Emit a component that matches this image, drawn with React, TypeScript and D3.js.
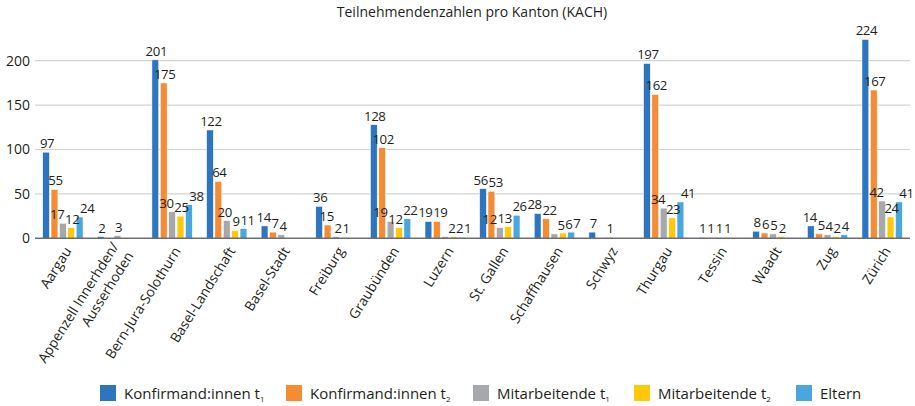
import React from "react";
import * as d3 from "d3";

const title = "Teilnehmendenzahlen pro Kanton (KACH)";
const cantons: string[][] = [
  ["Aargau"],
  ["Appenzell Innerhden/", "Ausserhoden"],
  ["Bern-Jura-Solothurn"],
  ["Basel-Landschaft"],
  ["Basel-Stadt"],
  ["Freiburg"],
  ["Graubünden"],
  ["Luzern"],
  ["St. Gallen"],
  ["Schaffhausen"],
  ["Schwyz"],
  ["Thurgau"],
  ["Tessin"],
  ["Waadt"],
  ["Zug"],
  ["Zürich"],
];
const konfT1: (number | null)[] = [97, 2, 201, 122, 14, 36, 128, 19, 56, 28, 7, 197, 1, 8, 14, 224];
const konfT2: (number | null)[] = [55, null, 175, 64, 7, 15, 102, 19, 53, 22, null, 162, 1, 6, 5, 167];
const mitT1: (number | null)[] = [17, 3, 30, 20, 4, 2, 19, 2, 12, 5, 1, 34, 1, 5, 4, 42];
const mitT2: (number | null)[] = [12, null, 25, 9, null, 1, 12, 2, 13, 6, null, 23, 1, 2, 2, 24];
const eltern: (number | null)[] = [24, null, 38, 11, null, null, 22, 1, 26, 7, null, 41, null, null, 4, 41];
const yTicks = [0, 50, 100, 150, 200];

const seriesNames = [
  { base: "Konfirmand:innen t", sub: "1" },
  { base: "Konfirmand:innen t", sub: "2" },
  { base: "Mitarbeitende t", sub: "1" },
  { base: "Mitarbeitende t", sub: "2" },
  { base: "Eltern", sub: "" },
];
const seriesValues = [konfT1, konfT2, mitT1, mitT2, eltern];
const colors = ["#2E75BF", "#F58B32", "#A7A8AB", "#FFC80B", "#49A7DE"];
const legendX = [100, 286, 473, 634, 796];

const W = 915;
const H = 406;
const FONT = "'Open Sans', 'Noto Sans', sans-serif";
const LABEL_SIZE = 13.2;
const DIGIT_W = 7.1;

type Lab = { key: string; v: number; x: number; y: number; w: number };

export default function App() {
  const left = 35;
  const right = 910;
  const y0 = 238.3;
  const y200 = 60.7;
  const x = d3
    .scaleBand<number>()
    .domain(cantons.map((_, i) => i))
    .range([left, right])
    .paddingInner(0.26)
    .paddingOuter(0.14);
  const xs = d3
    .scaleBand<number>()
    .domain(seriesValues.map((_, i) => i))
    .range([0, x.bandwidth()])
    .paddingInner(0.18);
  const y = d3.scaleLinear().domain([0, 200]).range([y0, y200]);
  const angle = -58;

  // value labels with simple horizontal collision spreading
  const labels: Lab[] = [];
  cantons.forEach((_, i) => {
    seriesValues.forEach((vals, s) => {
      const v = vals[i];
      if (v == null) return;
      labels.push({
        key: `l${s}-${i}`,
        v,
        x: (x(i) as number) + (xs(s) as number) + xs.bandwidth() / 2 + 1,
        y: y(v) - 4,
        w: String(v).length * DIGIT_W,
      });
    });
  });
  for (let it = 0; it < 60; it++) {
    let moved = false;
    for (let a = 0; a < labels.length; a++) {
      for (let b = a + 1; b < labels.length; b++) {
        const A = labels[a];
        const B = labels[b];
        if (Math.abs(A.y - B.y) >= 16) continue;
        if (Math.abs(A.x - B.x) > 60) continue;
        const ov = A.x + A.w / 2 + 0.8 - (B.x - B.w / 2);
        if (ov > 0.05) {
          A.x -= ov / 2;
          B.x += ov / 2;
          moved = true;
        }
      }
    }
    if (!moved) break;
  }

  return (
    <svg
      width={W}
      height={H}
      style={{ position: "absolute", left: 0, top: 0 }}
      fontFamily={FONT}
    >
      <rect width={W} height={H} fill="#fff" />
      <text x={472} y={17} textAnchor="middle" fontSize={14} fill="#231F20">
        {title}
      </text>
      {yTicks.map((t) => (
        <g key={t}>
          {t > 0 && (
            <line x1={left} x2={right} y1={y(t)} y2={y(t)} stroke="#D1D3D4" strokeWidth={1.2} />
          )}
          <text x={30} y={y(t)} dy="0.35em" textAnchor="end" fontSize={14} fill="#231F20">
            {t}
          </text>
        </g>
      ))}
      {seriesValues.map((vals, s) =>
        vals.map((v, i) =>
          v == null ? null : (
            <rect
              key={`b${s}-${i}`}
              x={(x(i) as number) + (xs(s) as number)}
              y={y(v)}
              width={xs.bandwidth()}
              height={y0 - y(v)}
              fill={colors[s]}
              stroke="#fff"
              strokeWidth={0.6}
            />
          )
        )
      )}
      <line x1={left} x2={right} y1={y0} y2={y0} stroke="#6D6E71" strokeWidth={1.5} />
      {labels.map((l) => (
        <text
          key={l.key}
          x={l.x}
          y={l.y}
          textAnchor="middle"
          fontSize={LABEL_SIZE}
          letterSpacing={-0.4}
          fill="#231F20"
        >
          {l.v}
        </text>
      ))}
      {cantons.map((lines, i) => {
        const cx = (x(i) as number) + x.bandwidth() / 2;
        const n = lines.length;
        return (
          <text
            key={`c${i}`}
            transform={`translate(${cx + 5},${y0 + 10}) rotate(${angle})`}
            textAnchor="end"
            fontSize={13.8}
            fill="#231F20"
          >
            {lines.map((ln, k) => (
              <tspan key={k} x={0} y={(k - (n - 1) / 2) * 17.5} dy="0.35em">
                {ln}
              </tspan>
            ))}
          </text>
        );
      })}
      {seriesNames.map((s, k) => (
        <g key={`lg${k}`}>
          <rect x={legendX[k]} y={385} width={16} height={16} fill={colors[k]} />
          <text x={legendX[k] + 24} y={398.5} fontSize={15} fill="#231F20">
            {s.base}
            {s.sub && (
              <tspan fontSize={8} dy={3}>
                {s.sub}
              </tspan>
            )}
          </text>
        </g>
      ))}
    </svg>
  );
}
